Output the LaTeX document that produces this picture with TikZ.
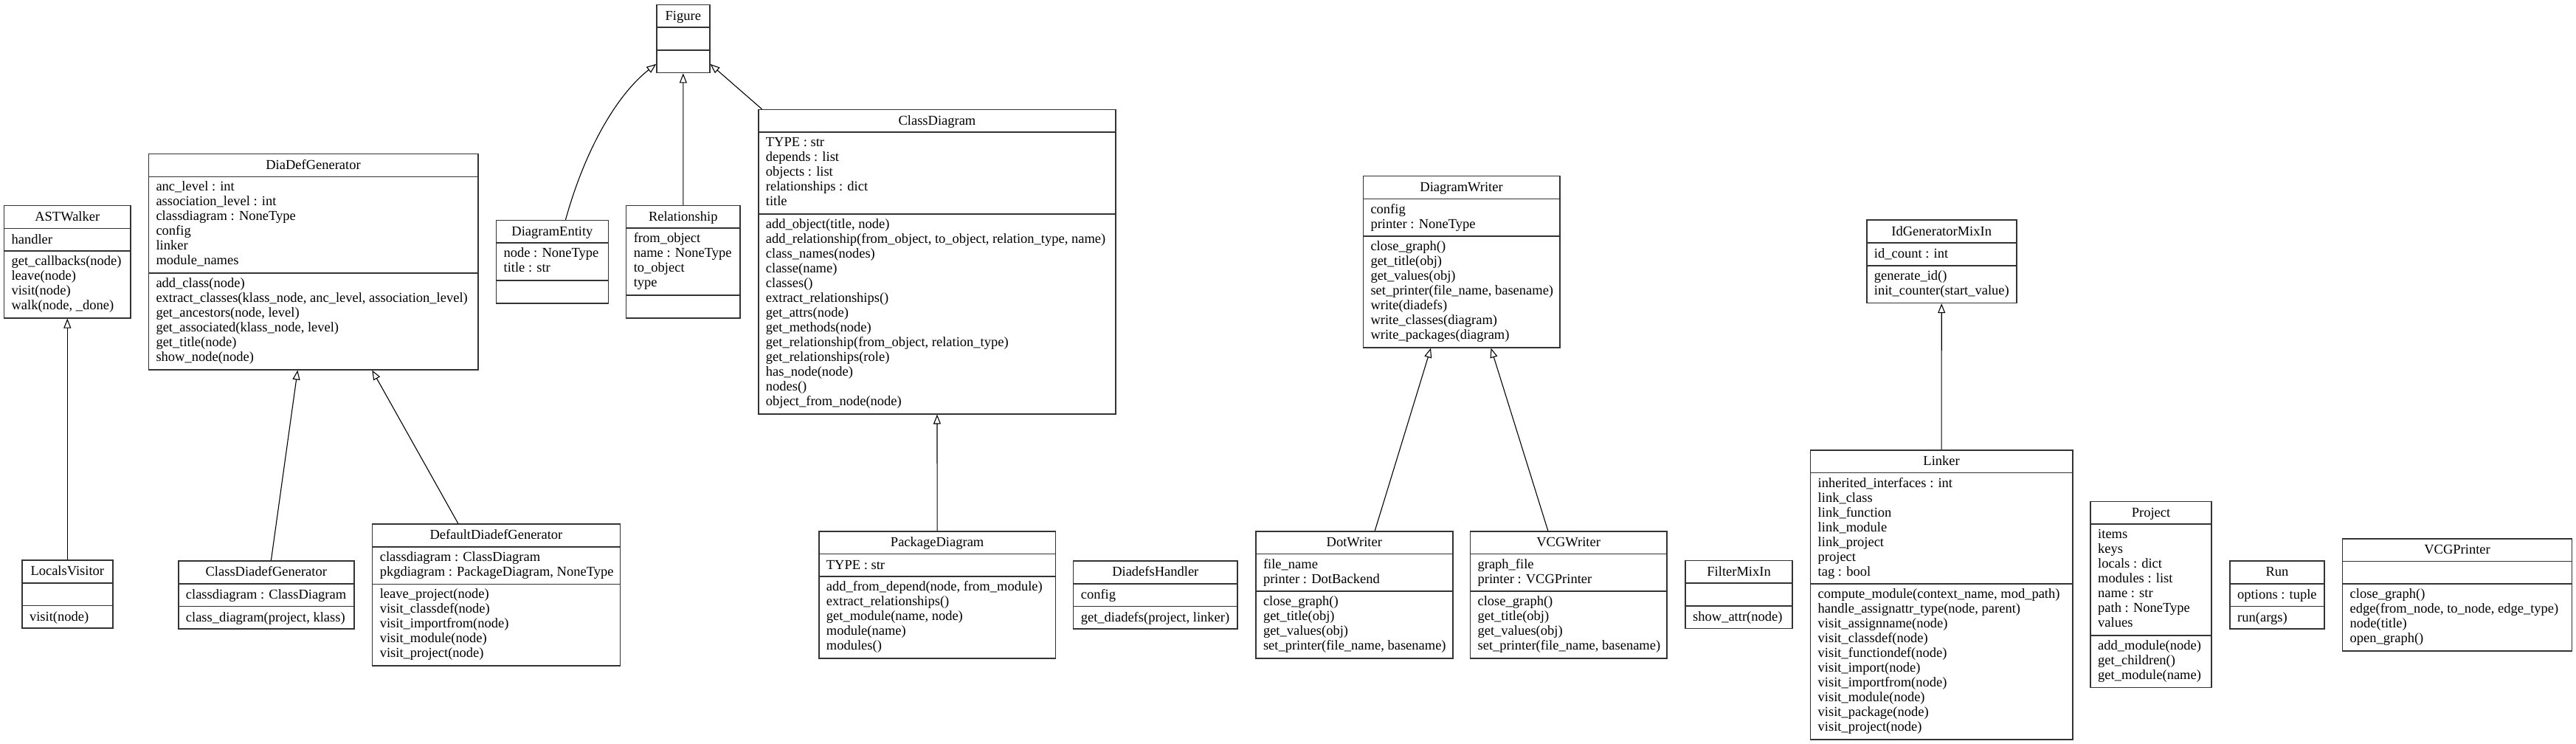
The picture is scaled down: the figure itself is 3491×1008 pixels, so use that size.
\documentclass[tikz,border=0pt]{standalone}
\usepackage{fontspec}
\setmainfont{Liberation Serif}
\usetikzlibrary{arrows.meta}
\newcommand\umlfont{\fontsize{18.5}{20}\selectfont}
\newcommand\umlstrut{\rule[-4.5pt]{0pt}{20pt}}
\tikzset{
 classbox/.style={draw=black!80, line width=1.6pt, rectangle, inner sep=0pt},
 classsep/.style={draw=black!80, line width=1.6pt},
 titletext/.style={font=\umlfont, inner sep=0pt, anchor=center, execute at begin node=\umlstrut},
 membertext/.style={font=\umlfont, inner sep=0pt, anchor=west, align=left, execute at begin node=\umlstrut, execute at end node=\umlstrut},
 inherit/.style={draw=black, line width=1.1pt, -{Triangle[open, length=13pt, width=10pt]}},
}
% #1 name, #2 left, #3 top, #4 right, #5 title, #6 n attrs, #7 attrs, #8 n methods, #9 methods
\newcommand\umlclass[9]{%
 \pgfmathsetmacro\ya{#3+30.7}%
 \pgfmathsetmacro\yb{\ya+max(#6,1)*20+10.7}%
 \pgfmathsetmacro\yc{\yb+max(#8,1)*20+10.7}%
 \pgfmathsetmacro\xm{(#2+#4)/2}%
 \pgfmathsetmacro\ym{(#3+\yc)/2}%
 \pgfmathsetmacro\bw{#4-#2}%
 \pgfmathsetmacro\bh{\yc-#3}%
 \node[classbox, minimum width=\bw pt, minimum height=\bh pt] (#1) at (\xm,\ym) {};
 \draw[classsep] (#2,\ya) -- (#4,\ya);
 \draw[classsep] (#2,\yb) -- (#4,\yb);
 \node[titletext] (#1-t) at (\xm,{#3+15.35}) {#5};
 \node[membertext] (#1-a) at ({#2+10},{(\ya+\yb)/2}) {#7};
 \node[membertext] (#1-m) at ({#2+10},{(\yb+\yc)/2}) {#9};
}
\begin{document}
\begin{tikzpicture}[x=1pt,y=-1pt]
\fill[white] (0,0) rectangle (3491,1008);
\useasboundingbox (0,0) rectangle (3491,1008);

\umlclass{Figure}{890}{6.5}{961.7}{Figure}{0}{}{0}{}
\umlclass{ASTWalker}{5.4}{278.7}{177.2}{ASTWalker}{1}{handler}{4}{get\_callbacks(node)\\leave(node)\\visit(node)\\walk(node, \_done)}
\umlclass{DiaDefGenerator}{201.3}{208.7}{647.8}{DiaDefGenerator}{6}{anc\_level : int\\association\_level : int\\classdiagram : NoneType\\config\\linker\\module\_names}{6}{add\_class(node)\\extract\_classes(klass\_node, anc\_level, association\_level)\\get\_ancestors(node, level)\\get\_associated(klass\_node, level)\\get\_title(node)\\show\_node(node)}
\umlclass{DiagramEntity}{672.4}{298.6}{824.5}{DiagramEntity}{2}{node : NoneType\\title : str}{0}{}
\umlclass{Relationship}{848.6}{278.6}{1003}{Relationship}{4}{from\_object\\name : NoneType\\to\_object\\type}{0}{}
\umlclass{ClassDiagram}{1027.7}{148.6}{1512.2}{ClassDiagram}{5}{TYPE : str\\depends : list\\objects : list\\relationships : dict\\title}{13}{add\_object(title, node)\\add\_relationship(from\_object, to\_object, relation\_type, name)\\class\_names(nodes)\\classe(name)\\classes()\\extract\_relationships()\\get\_attrs(node)\\get\_methods(node)\\get\_relationship(from\_object, relation\_type)\\get\_relationships(role)\\has\_node(node)\\nodes()\\object\_from\_node(node)}
\umlclass{DiagramWriter}{1847.3}{238.7}{2113.8}{DiagramWriter}{2}{config\\printer : NoneType}{7}{close\_graph()\\get\_title(obj)\\get\_values(obj)\\set\_printer(file\_name, basename)\\write(diadefs)\\write\_classes(diagram)\\write\_packages(diagram)}
\umlclass{IdGeneratorMixIn}{2529.7}{298.3}{2732.7}{IdGeneratorMixIn}{1}{id\_count : int}{2}{generate\_id()\\init\_counter(start\_value)}
\umlclass{LocalsVisitor}{29.9}{759}{152.7}{LocalsVisitor}{0}{}{1}{visit(node)}
\umlclass{ClassDiadefGenerator}{241.7}{760}{479.9}{ClassDiadefGenerator}{1}{classdiagram : ClassDiagram}{1}{class\_diagram(project, klass)}
\umlclass{DefaultDiadefGenerator}{504.6}{710}{840.4}{DefaultDiadefGenerator}{2}{classdiagram : ClassDiagram\\pkgdiagram : PackageDiagram, NoneType}{5}{leave\_project(node)\\visit\_classdef(node)\\visit\_importfrom(node)\\visit\_module(node)\\visit\_project(node)}
\umlclass{PackageDiagram}{1109.7}{719.7}{1430.6}{PackageDiagram}{1}{TYPE : str}{5}{add\_from\_depend(node, from\_module)\\extract\_relationships()\\get\_module(name, node)\\module(name)\\modules()}
\umlclass{DiadefsHandler}{1454.6}{760}{1677}{DiadefsHandler}{1}{config}{1}{get\_diadefs(project, linker)}
\umlclass{DotWriter}{1701.8}{719.7}{1968.8}{DotWriter}{2}{file\_name\\printer : DotBackend}{4}{close\_graph()\\get\_title(obj)\\get\_values(obj)\\set\_printer(file\_name, basename)}
\umlclass{VCGWriter}{1992.4}{719.7}{2258.9}{VCGWriter}{2}{graph\_file\\printer : VCGPrinter}{4}{close\_graph()\\get\_title(obj)\\get\_values(obj)\\set\_printer(file\_name, basename)}
\umlclass{FilterMixIn}{2284}{759.3}{2429.2}{FilterMixIn}{0}{}{1}{show\_attr(node)}
\umlclass{Linker}{2453.5}{609.7}{2808.7}{Linker}{7}{inherited\_interfaces : int\\link\_class\\link\_function\\link\_module\\link\_project\\project\\tag : bool}{10}{compute\_module(context\_name, mod\_path)\\handle\_assignattr\_type(node, parent)\\visit\_assignname(node)\\visit\_classdef(node)\\visit\_functiondef(node)\\visit\_import(node)\\visit\_importfrom(node)\\visit\_module(node)\\visit\_package(node)\\visit\_project(node)}
\umlclass{Project}{2833}{679.3}{2997}{Project}{7}{items\\keys\\locals : dict\\modules : list\\name : str\\path : NoneType\\values}{3}{add\_module(node)\\get\_children()\\get\_module(name)}
\umlclass{Run}{3022}{760}{3150}{Run}{1}{options : tuple}{1}{run(args)}
\umlclass{VCGPrinter}{3174.5}{729.7}{3485.6}{VCGPrinter}{0}{}{4}{close\_graph()\\edge(from\_node, to\_node, edge\_type)\\node(title)\\open\_graph()}

% inheritance connectors
\draw[inherit] ([xshift=18pt]DiagramEntity.north) .. controls (795,195) and (840,125) .. ([yshift=12.6pt]Figure.south west);
\draw[inherit] (Relationship.north) -- (Figure.south);
\draw[inherit] ([xshift=5.6pt]ClassDiagram.north west) -- ([yshift=12.6pt]Figure.south east);
\draw[inherit] (LocalsVisitor.north) -- (ASTWalker.south);
\draw[inherit] ([xshift=6.6pt]ClassDiadefGenerator.north) -- ([xshift=-21.2pt]DiaDefGenerator.south);
\draw[inherit] ([xshift=-51.7pt]DefaultDiadefGenerator.north) -- ([xshift=79.75pt]DiaDefGenerator.south);
\draw[inherit] (PackageDiagram.north) -- (ClassDiagram.south);
\draw[inherit] ([xshift=28pt]DotWriter.north) -- ([xshift=-41.5pt]DiagramWriter.south);
\draw[inherit] ([xshift=-27.9pt]VCGWriter.north) -- ([xshift=40pt]DiagramWriter.south);
\draw[inherit] (Linker.north) -- (IdGeneratorMixIn.south);
\end{tikzpicture}
\end{document}
